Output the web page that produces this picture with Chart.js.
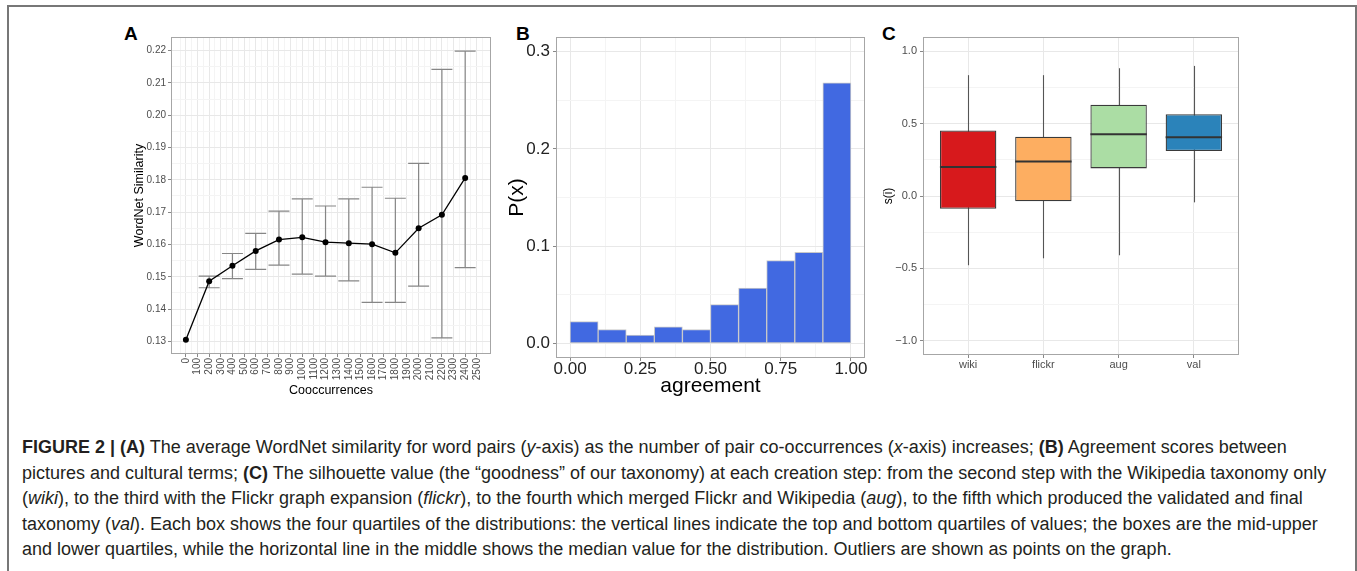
<!DOCTYPE html>
<html>
<head>
<meta charset="utf-8">
<script src="https://cdn.jsdelivr.net/npm/chart.js@4.4.1/dist/chart.umd.min.js"></script>
<style>
  body { margin: 0; background: #fff; width: 1357px; height: 571px; overflow: hidden; position: relative;
         font-family: "Liberation Sans", Arial, Helvetica, sans-serif; }
  .frame { position: absolute; left: 7px; top: 5px; width: 1346px; height: 620px; border: 2px solid #777; border-bottom: none; }
  .panel-label { position: absolute; font-weight: bold; font-size: 19px; color: #000; line-height: 19px; }
  canvas { position: absolute; }
  .caption { position: absolute; left: 22px; top: 435px; font-size: 18px; line-height: 25.5px; color: #231f20; white-space: nowrap; }
</style>
</head>
<body>
<div class="frame"></div>

<div class="panel-label" style="left:124px; top:24px;">A</div>
<div class="panel-label" style="left:516px; top:24px;">B</div>
<div class="panel-label" style="left:882px; top:24px;">C</div>

<canvas id="chartA" width="367" height="378" style="left:132px; top:20px;"></canvas>
<canvas id="chartB" width="365" height="379" style="left:505px; top:20px;"></canvas>
<canvas id="chartC" width="366" height="355" style="left:881px; top:20px;"></canvas>

<div class="caption">
  <div><b>FIGURE 2 | (A)</b> The average WordNet similarity for word pairs (<i>y</i>-axis) as the number of pair co-occurrences (<i>x</i>-axis) increases; <b>(B)</b> Agreement scores between</div>
  <div>pictures and cultural terms; <b>(C)</b> The silhouette value (the “goodness” of our taxonomy) at each creation step: from the second step with the Wikipedia taxonomy only</div>
  <div>(<i>wiki</i>), to the third with the Flickr graph expansion (<i>flickr</i>), to the fourth which merged Flickr and Wikipedia (<i>aug</i>), to the fifth which produced the validated and final</div>
  <div>taxonomy (<i>val</i>). Each box shows the four quartiles of the distributions: the vertical lines indicate the top and bottom quartiles of values; the boxes are the mid-upper</div>
  <div>and lower quartiles, while the horizontal line in the middle shows the median value for the distribution. Outliers are shown as points on the graph.</div>
</div>

<script>
// Panel A: WordNet similarity by number of co-occurrences
const coocTickLabels = ['0', '100', '200', '300', '400', '500', '600', '700', '800', '900', '1000', '1100', '1200',
  '1300', '1400', '1500', '1600', '1700', '1800', '1900', '2000', '2100', '2200', '2300', '2400', '2500'];
const coocX = [0, 200, 400, 600, 800, 1000, 1200, 1400, 1600, 1800, 2000, 2200, 2400];
const simMean = [0.1305, 0.1486, 0.1534, 0.1580, 0.1615, 0.1622, 0.1607, 0.1604, 0.1601, 0.1574, 0.1650, 0.1692, 0.1806];
const simUpper = [null, 0.1502, 0.1572, 0.1634, 0.1703, 0.1741, 0.1719, 0.1741, 0.1777, 0.1743, 0.1851, 0.2142, 0.2198];
const simLower = [null, 0.1466, 0.1494, 0.1523, 0.1536, 0.1508, 0.1502, 0.1487, 0.1421, 0.1421, 0.1471, 0.1311, 0.1528];
const simTickLabels = ['0.13', '0.14', '0.15', '0.16', '0.17', '0.18', '0.19', '0.20', '0.21', '0.22'];

// Panel B: agreement histogram
const agreeBins = [0.05, 0.15, 0.25, 0.35, 0.45, 0.55, 0.65, 0.75, 0.85, 0.95];
const agreeP = [0.0225, 0.0143, 0.0085, 0.0170, 0.0143, 0.0399, 0.0569, 0.0852, 0.0937, 0.2679];
const agreeTickLabels = ['0.00', '0.25', '0.50', '0.75', '1.00'];
const pTickLabels = ['0.0', '0.1', '0.2', '0.3'];

// Panel C: silhouette per creation step
const steps = ['wiki', 'flickr', 'aug', 'val'];
const whiskerLow = [-0.479, -0.431, -0.410, -0.044];
const boxQ1 = [-0.088, -0.037, 0.191, 0.311];
const boxMedian = [0.200, 0.239, 0.428, 0.407];
const boxQ3 = [0.453, 0.410, 0.631, 0.566];
const whiskerHigh = [0.836, 0.836, 0.884, 0.900];
const stepColors = ['#d7191c', '#fdae61', '#abdda4', '#2b83ba'];
const silTickLabels = ['\u22121.0', '\u22120.5', '0.0', '0.5', '1.0'];

const FONT = '"Liberation Sans", Arial, Helvetica, sans-serif';

// Build tick objects from labels, with minor ticks half way between majors
function buildTicks(labels, values, min, max, withMinor) {
  const major = labels.map((l, i) => ({
    value: values ? values[i] : parseFloat(l.replace('\u2212', '-')),
    label: l,
  }));
  if (!withMinor) return major;
  const half = (major[1].value - major[0].value) / 2;
  const ticks = [];
  major.forEach((t, i) => {
    const before = t.value - half;
    if (i === 0 && before >= min) ticks.push({ value: before, minor: true });
    ticks.push(t);
    const after = t.value + half;
    if (after <= max) ticks.push({ value: after, minor: true });
  });
  return ticks;
}

// Shared axis options (ggplot theme_bw look)
function axis(opts) {
  const ticks = buildTicks(opts.labels, opts.values, opts.min, opts.max, opts.minor);
  return {
    type: 'linear',
    min: opts.min,
    max: opts.max,
    offset: false,
    afterBuildTicks: scale => { scale.ticks = ticks.map(t => Object.assign({}, t)); },
    afterFit: scale => {
      if (opts.size != null) {
        if (scale.isHorizontal()) scale.height = opts.size; else scale.width = opts.size;
      }
    },
    border: { display: false },
    grid: {
      offset: false,
      color: ctx => (ctx.tick && ctx.tick.minor) ? '#f4f4f4' : '#e8e8e8',
      tickColor: ctx => (ctx.tick && ctx.tick.minor) ? 'rgba(0,0,0,0)' : '#888',
      lineWidth: 1,
      tickLength: 3,
    },
    ticks: {
      autoSkip: false,
      maxRotation: opts.rotate ? 90 : 0,
      minRotation: opts.rotate ? 90 : 0,
      padding: opts.pad != null ? opts.pad : 2,
      color: opts.tickColor || '#4d4d4d',
      font: { family: FONT, size: opts.tickSize || 10, lineHeight: opts.tickLH || 1.2 },
      callback: (v, i, ticks) => ticks[i].label || '',
    },
    title: {
      display: !!opts.title,
      text: opts.title,
      color: '#000',
      font: { family: FONT, size: opts.titleSize || 12 },
      padding: { top: 0, bottom: 0 },
    },
  };
}

// Gray panel border around the plotting area
const frame = {
  id: 'frame',
  afterDraw(chart) {
    const { ctx, chartArea: a } = chart;
    ctx.save();
    ctx.strokeStyle = '#a6a6a6';
    ctx.lineWidth = 1;
    ctx.strokeRect(a.left + 0.5, a.top + 0.5, a.right - a.left - 1, a.bottom - a.top - 1);
    ctx.restore();
  },
};

// Error bars for panel A
const errorBars = {
  id: 'errorBars',
  beforeDatasetsDraw(chart) {
    const { ctx, scales: { x, y } } = chart;
    ctx.save();
    ctx.strokeStyle = '#868686';
    ctx.lineWidth = 1.2;
    coocX.forEach((v, i) => {
      if (simUpper[i] == null) return;
      const px = x.getPixelForValue(v);
      const half = x.getPixelForValue(v + 90) - px;
      const top = y.getPixelForValue(simUpper[i]);
      const bot = y.getPixelForValue(simLower[i]);
      ctx.beginPath();
      ctx.moveTo(px, top); ctx.lineTo(px, bot);
      ctx.moveTo(px - half, top); ctx.lineTo(px + half, top);
      ctx.moveTo(px - half, bot); ctx.lineTo(px + half, bot);
      ctx.stroke();
    });
    ctx.restore();
  },
};

// Whiskers and medians for panel C boxes
const boxParts = {
  id: 'boxParts',
  beforeDatasetsDraw(chart) {
    const { ctx, scales: { x, y } } = chart;
    ctx.save();
    ctx.strokeStyle = '#555';
    ctx.lineWidth = 1.1;
    steps.forEach((s, i) => {
      const px = Math.round(x.getPixelForValue(i + 1)) + 0.5;
      ctx.beginPath();
      ctx.moveTo(px, y.getPixelForValue(whiskerHigh[i]));
      ctx.lineTo(px, y.getPixelForValue(whiskerLow[i]));
      ctx.stroke();
    });
    ctx.restore();
  },
  afterDatasetsDraw(chart) {
    const { ctx, scales: { y } } = chart;
    const bars = chart.getDatasetMeta(0).data;
    ctx.save();
    ctx.strokeStyle = '#333';
    ctx.lineWidth = 2;
    steps.forEach((s, i) => {
      const bar = bars[i];
      const py = y.getPixelForValue(boxMedian[i]);
      ctx.beginPath();
      ctx.moveTo(bar.x - bar.width / 2, py);
      ctx.lineTo(bar.x + bar.width / 2, py);
      ctx.stroke();
    });
    ctx.restore();
  },
};

function baseOptions(padding, scales) {
  return {
    responsive: false,
    animation: false,
    layout: { padding },
    plugins: { legend: { display: false }, tooltip: { enabled: false } },
    scales,
  };
}

// Panel A chart
new Chart(document.getElementById('chartA'), {
  type: 'line',
  data: {
    datasets: [{
      data: coocX.map((x, i) => ({ x, y: simMean[i] })),
      borderColor: '#000',
      borderWidth: 1.3,
      pointRadius: 3,
      pointBackgroundColor: '#000',
      pointBorderWidth: 0,
      tension: 0,
    }],
  },
  options: baseOptions({ top: 17, right: 8, left: 0, bottom: 0 }, {
    x: axis({ labels: coocTickLabels, min: -128, max: 2622, minor: true, rotate: true, size: 44,
              title: 'Cooccurrences', titleSize: 12.5, pad: 1 }),
    y: axis({ labels: simTickLabels, min: 0.1261, max: 0.2242, minor: true, size: 39,
              title: 'WordNet Similarity', titleSize: 12.5 }),
  }),
  plugins: [errorBars, frame],
});

// Panel B chart
new Chart(document.getElementById('chartB'), {
  type: 'bar',
  data: {
    datasets: [{
      data: agreeBins.map((x, i) => ({ x, y: agreeP[i] })),
      backgroundColor: '#4169e1',
      borderColor: '#c8c8c8',
      borderWidth: 1,
      borderSkipped: false,
      barPercentage: 1,
      categoryPercentage: 1,
    }],
  },
  options: baseOptions({ top: 17, right: 5, left: 0, bottom: 0 }, {
    x: axis({ labels: agreeTickLabels, min: -0.05, max: 1.05, minor: true, size: 41,
              title: 'agreement', titleSize: 21, tickSize: 17, tickColor: '#222', tickLH: 1.0, pad: 0 }),
    y: axis({ labels: pTickLabels, min: -0.015, max: 0.315, minor: true, size: 51,
              title: 'P(x)', titleSize: 21, tickSize: 17, tickColor: '#222', pad: 3 }),
  }),
  plugins: [frame],
});

// Panel C chart
new Chart(document.getElementById('chartC'), {
  type: 'bar',
  data: {
    datasets: [{
      data: steps.map((s, i) => ({ x: i + 1, y: [boxQ1[i], boxQ3[i]] })),
      backgroundColor: stepColors,
      borderColor: '#3a3a3a',
      borderWidth: 1.3,
      borderSkipped: false,
      barPercentage: 0.75,
      categoryPercentage: 1,
    }],
  },
  options: baseOptions({ top: 17, right: 8, left: 0, bottom: 0 }, {
    x: axis({ labels: steps, values: steps.map((s, i) => i + 1), min: 0.4, max: 4.6, minor: false, size: 20,
              tickSize: 11, pad: 0 }),
    y: axis({ labels: silTickLabels, min: -1.1, max: 1.1, minor: true, size: 42,
              title: 's(i)', titleSize: 12, tickSize: 11, pad: 3 }),
  }),
  plugins: [boxParts, frame],
});
</script>
</body>
</html>
